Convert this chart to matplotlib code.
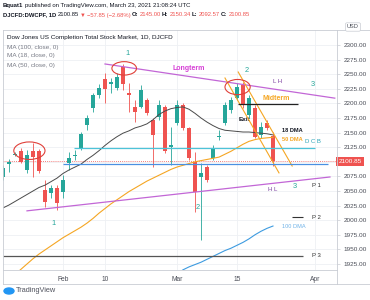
import matplotlib
matplotlib.use("Agg")
import matplotlib.pyplot as plt
from matplotlib.patches import Ellipse
from matplotlib.lines import Line2D
import matplotlib.transforms as mtransforms
import numpy as np

# ---- data ----
dates = ["Jan 15", "Jan 19", "Jan 20", "Jan 21", "Jan 22", "Jan 25", "Jan 26", "Jan 27", "Jan 28", "Jan 29",
         "Feb 1", "Feb 2", "Feb 3", "Feb 4", "Feb 5", "Feb 8", "Feb 9", "Feb 10", "Feb 11", "Feb 12",
         "Feb 16", "Feb 17", "Feb 18", "Feb 19", "Feb 22", "Feb 23", "Feb 24", "Feb 25", "Feb 26",
         "Mar 1", "Mar 2", "Mar 3", "Mar 4", "Mar 5", "Mar 8", "Mar 9", "Mar 10", "Mar 11", "Mar 12",
         "Mar 15", "Mar 16", "Mar 17", "Mar 18", "Mar 19", "Mar 22", "Mar 23"]
opens = [2074, 2097, 2112, 2118, 2086, 2118, 2118, 2052, 2047, 2055,
         2048, 2098, 2110, 2122, 2163, 2192, 2214, 2242, 2234, 2226,
         2262, 2218, 2194, 2194, 2206, 2172, 2177, 2194, 2126,
         2166, 2197, 2158, 2100, 2074, 2091, 2107, 2143, 2166, 2189,
         2209, 2231, 2180, 2192, 2146, 2166, 2145.00]
highs = [2095, 2104, 2117, 2124, 2120, 2132, 2122, 2069, 2060, 2060,
         2077, 2117, 2120, 2151, 2180, 2218, 2233, 2252, 2244, 2252,
         2267, 2235, 2206, 2232, 2209, 2175, 2206, 2197, 2160,
         2206, 2200, 2160, 2117, 2098, 2095, 2129, 2154, 2202, 2211,
         2235, 2237, 2214, 2197, 2168, 2172, 2150.34]
lows = [2069, 2083, 2110, 2098, 2081, 2074, 2080, 2023, 2038, 2017,
        2038, 2086, 2103, 2120, 2154, 2185, 2209, 2200, 2218, 2223,
        2223, 2185, 2168, 2192, 2180, 2091, 2172, 2115, 2095,
        2163, 2154, 2103, 2014, 1966, 2065, 2103, 2137, 2163, 2184,
        2206, 2192, 2175, 2141, 2141, 2154, 2092.57]
closes = [2089, 2099, 2114, 2100, 2112, 2108, 2084, 2031, 2055, 2030,
          2069, 2106, 2112, 2148, 2175, 2214, 2226, 2225, 2236, 2245,
          2233, 2214, 2185, 2223, 2184, 2146, 2197, 2118, 2128,
          2197, 2158, 2107, 2048, 2081, 2069, 2122, 2145, 2197, 2206,
          2228, 2197, 2209, 2142, 2159, 2158.70, 2100.85]

ma18 = [2021, 2026, 2032, 2038, 2044, 2050, 2056, 2060, 2066, 2072,
        2080, 2086, 2091, 2096, 2104, 2111, 2119, 2128, 2136, 2143,
        2149, 2153, 2158, 2161, 2165, 2172, 2181, 2187, 2191,
        2193, 2194, 2190, 2183, 2175, 2168, 2162, 2157, 2154, 2153,
        2152, 2151, 2151, 2150, 2149, 2148, 2146]
ma50 = [np.nan, np.nan, 1907, 1916, 1925, 1934, 1942, 1949, 1956, 1963,
        1970, 1976, 1982, 1988, 1995, 2003, 2012, 2020, 2028, 2035,
        2042, 2049, 2055, 2061, 2067, 2072, 2077, 2082, 2087,
        2091, 2094, 2097, 2100, 2102, 2104, 2106, 2108, 2113, 2118,
        2124, 2130, 2135, 2138, 2140, 2141, 2142]
ma100 = [np.nan] * 29 + [1908, 1915, 1920, 1924, 1928, 1933, 1938, 1943, 1948, 1952,
                         1957, 1962, 1968, 1975, 1981, 1986, 1990]

last_price = 2100.85
price_ticks = list(range(1925, 2301, 25))
time_labels = ["Feb", "10", "Mar", "15", "Apr"]
time_label_idx = [10, 17, 29, 39, 52]   # trading-day index (Apr 1 = 52)

# drawn trend lines: (x0, y0, x1, y1) in trading-day index / price
longterm_line = (17, 2267.5, 55.3, 2209)
higher_low_line = (4, 2016, 54.5, 2074)
midterm_lines = [(37, 2243.5, 46, 2081), (39.2, 2253.8, 48.2, 2092.8)]
dcb_level = (11.8, 52, 2123.7)
support_level = (10, 54.2, 2096)
exit_level = (39.2, 49.2, 2199)
p2_level = (48.2, 50, 2005.5)
p3_level = (0, 50, 1938.8)
circled = [(4.4, 2119, 5.2, 30), (20.2, 2260, 4.1, 23), (39.1, 2228, 4.2, 26)]

W, H = 370, 300
UP, DOWN = "#26a69a", "#ef5350"
GRID = "#eef0f4"
BORDER = "#c9ccd3"
TEXT = "#131722"
MUTED = "#787b86"
TEAL = "#26a69a"

plt.rcParams["font.family"] = ["Liberation Sans", "DejaVu Sans"]
fig = plt.figure(figsize=(W / 100, H / 100), dpi=100)


def fx(px):
    return px / W


def fy(py):
    return 1 - py / H


PL, PR, PT, PB = 3, 337, 30, 270
ax = fig.add_axes([fx(PL), fy(PB), (PR - PL) / W, (PB - PT) / H])
ax.set_xlim(0, 55.67)
ax.set_ylim(1914.7, 2325.7)
for s in ax.spines.values():
    s.set_visible(False)

# the last-price tag covers the 2100 label
ax.set_yticks(price_ticks)
ax.set_yticklabels(["" if abs(p - last_price) < 10 else f"{p:.2f}" for p in price_ticks])
ax.yaxis.tick_right()
ax.tick_params(axis="y", length=2, width=0.5, color=BORDER, labelsize=4.6, labelcolor="#4a4d57", pad=2.5)
ax.set_xticks(time_label_idx)
ax.set_xticklabels(time_labels)
ax.tick_params(axis="x", length=0, labelsize=4.8, labelcolor="#4a4d57", pad=4)
ax.grid(True, color=GRID, lw=0.6)
ax.set_axisbelow(True)

# candles
x = np.arange(len(dates))
o, h, l, c = map(np.array, (opens, highs, lows, closes))
cols = np.where(c >= o, UP, DOWN)
ax.vlines(x, l, h, colors=cols, lw=0.6, zorder=3)
body = np.maximum(np.abs(c - o), 2.0)
ax.bar(x, body, bottom=np.minimum(o, c), width=0.68, color=cols, zorder=4, lw=0)

# moving averages
ax.plot(x, ma18, color="#4a4a4a", lw=0.7, zorder=5)
ax.plot(x, ma50, color="#f5a623", lw=0.8, zorder=5)
ax.plot(x, ma100, color="#3d9be0", lw=0.8, zorder=5)


# trend lines and levels
def seg(line, **kw):
    x0, y0, x1, y1 = line
    ax.plot([x0, x1], [y0, y1], **kw)


seg(longterm_line, color="#c266d6", lw=0.9, zorder=6)
seg(higher_low_line, color="#c266d6", lw=0.9, zorder=6)
for ml in midterm_lines:
    seg(ml, color="#f5a623", lw=0.8, zorder=6)
ax.hlines(dcb_level[2], dcb_level[0], dcb_level[1], color="#4dc3d8", lw=0.9, zorder=6)
ax.hlines(support_level[2], support_level[0], support_level[1], color="#4a90e2", lw=0.9, zorder=6)
ax.hlines(exit_level[2], exit_level[0], exit_level[1], color="#222222", lw=0.9, zorder=6)
ax.hlines(p2_level[2], p2_level[0], p2_level[1], color="#333333", lw=0.8, zorder=6)
ax.hlines(p3_level[2], p3_level[0], p3_level[1], color="#555555", lw=0.9, zorder=6)
ax.axhline(last_price, color=DOWN, lw=0.6, ls=(0, (1, 1.5)), zorder=2)

# circles round the tops
for cx, cy, ew, eh in circled:
    ax.add_patch(Ellipse((cx, cy), ew, eh, fill=False, ec="#e0403a", lw=0.8, zorder=7))

# labels on the chart
ax.text(28.3, 2260.6, "Longterm", color="#d63fd6", fontsize=5, fontweight="bold", va="center")
ax.text(43.3, 2209, "Midterm", color="#f5a623", fontsize=5, fontweight="bold", va="center")
ax.text(40.2, 2173, "Exit", color=TEXT, fontsize=4.6, fontweight="bold", va="center", ha="center")
ax.text(46.5, 2153, "18 DMA", color=TEXT, fontsize=4.1, fontweight="bold", va="center")
ax.text(46.5, 2139, "50 DMA", color="#f5a623", fontsize=4.1, fontweight="bold", va="center")
ax.text(46.5, 1990, "100 DMA", color="#6fb2e8", fontsize=4.1, va="center")
ax.text(50.3, 2134, "D C B", color="#2aa3b8", fontsize=4.3, va="center")
ax.text(45.8, 2238, "L H", color="#7b3fa0", fontsize=4.3, va="center", ha="center")
ax.text(45.0, 2052, "H L", color="#7b3fa0", fontsize=4.3, va="center", ha="center")
for px_, py_, s in [(51.5, 2059, "P 1"), (51.5, 2005, "P 2"), (51.5, 1939, "P 3")]:
    ax.text(px_, py_, s, color="#333333", fontsize=4.3, va="center")
for px_, py_, s in [(20.7, 2286, "1"), (40.7, 2255.5, "2"), (51.7, 2233, "3"),
                    (8.5, 1995, "1"), (32.5, 2022, "2"), (48.7, 2057, "3")]:
    ax.text(px_, py_, s, color=TEAL, fontsize=5.4, va="center", ha="center")

# current price tag on the price scale
trans = mtransforms.blended_transform_factory(ax.transAxes, ax.transData)
ax.text(1.004, last_price, "2100.85", transform=trans, color="white", fontsize=4.6, va="center", ha="left",
        bbox=dict(boxstyle="square,pad=0.35", fc=DOWN, ec="none"), zorder=10, clip_on=False)

# frame lines
for x0, y0, x1, y1 in [(PL, PT, W, PT), (PL, PT, PL, 284), (PR, PT, PR, 284), (PL, 284, W, 284),
                       (PL, PB, PR, PB)]:
    fig.add_artist(Line2D([fx(x0), fx(x1)], [fy(y0), fy(y1)], color=BORDER, lw=0.6))

fig.text(fx(353), fy(27), "USD", fontsize=4.1, color="#4a4d57", ha="center", va="center",
         bbox=dict(boxstyle="round,pad=0.3", fc="white", ec=BORDER, lw=0.5))

# legend inside the chart
fig.text(fx(7), fy(37), "Dow Jones US Completion Total Stock Market, 1D, DJCFD", fontsize=4.6,
         color=TEXT, va="center")
for yy, s in [(47, "MA (100, close, 0)"), (56, "MA (18, close, 0)"), (65, "MA (50, close, 0)")]:
    fig.text(fx(7), fy(yy), s, fontsize=4.6, color=MUTED, va="center")

# header lines with mixed colours
renderer = fig.canvas.get_renderer()


def pieces(x_px, y_px, parts, size, gap):
    xx = x_px
    for s, col, wt in parts:
        t = fig.text(fx(xx), fy(y_px), s, color=col, fontsize=size, fontweight=wt, va="center")
        xx = t.get_window_extent(renderer).x1 + gap


pieces(3, 5, [("Bquat1", TEXT, "bold"),
              ("published on TradingView.com, March 23, 2021 21:08:24 UTC", TEXT, "normal")], 4.3, 2)
pieces(3, 15, [("DJCFD:DWCPF, 1D", TEXT, "bold"), ("2100.85", TEXT, "normal"),
               ("\u25bc", DOWN, "normal"), ("\u221257.85 (\u22122.68%)", DOWN, "normal"),
               ("O:", TEXT, "bold"), ("2145.00", DOWN, "normal"), ("H:", TEXT, "bold"),
               ("2150.34", DOWN, "normal"), ("L:", TEXT, "bold"), ("2092.57", DOWN, "normal"),
               ("C:", TEXT, "bold"), ("2100.85", DOWN, "normal")], 4.2, 1.2)

# watermark
fig.add_artist(Ellipse((fx(9), fy(291)), fx(10), 6 / H, color="#2196f3"))
fig.text(fx(16), fy(291), "TradingView", fontsize=5.3, color="#50535e", va="center")

fig.savefig("out.png", dpi=100)
